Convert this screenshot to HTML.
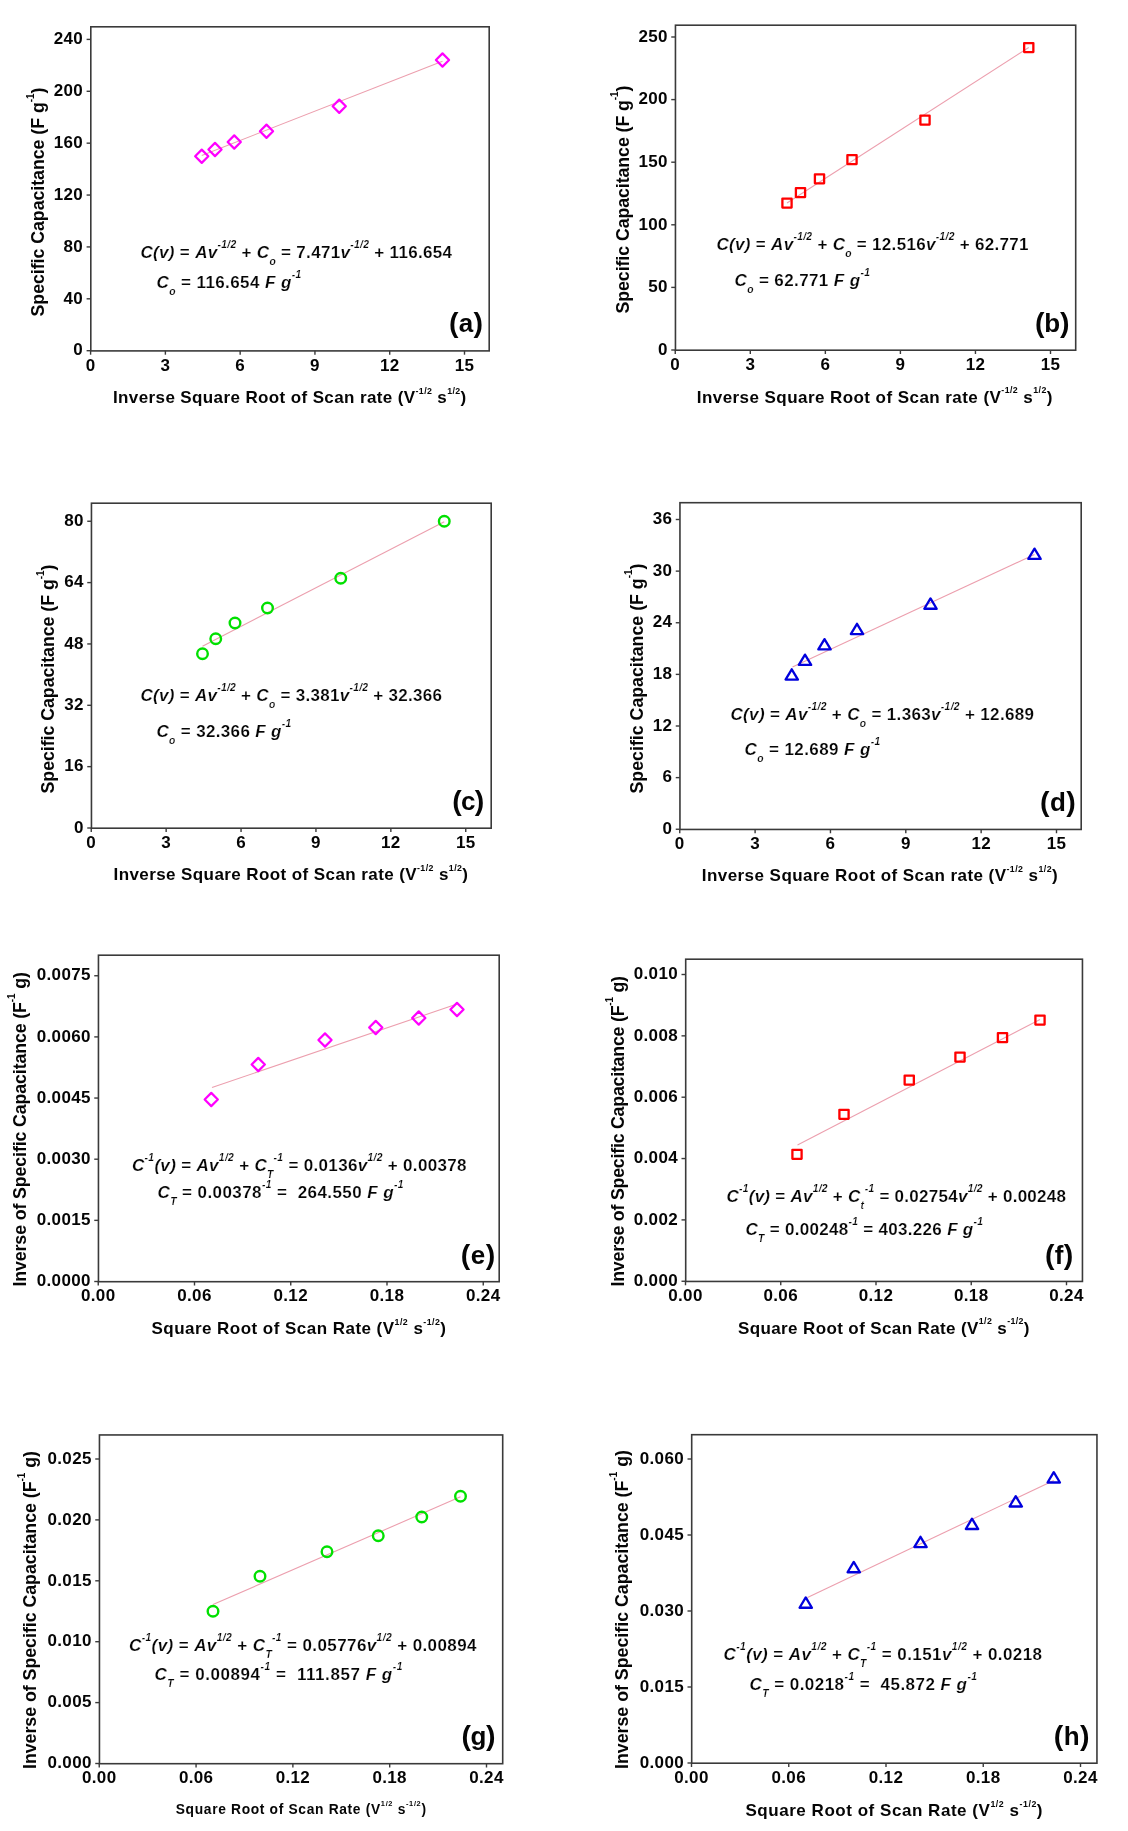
<!DOCTYPE html>
<html><head><meta charset="utf-8"><title>Figure</title>
<style>html,body{margin:0;padding:0;background:#fff;}svg{display:block;will-change:transform;filter:blur(0.35px);} text[id*="_eq"]{stroke:#fff;stroke-width:0.18px;}</style></head>
<body><svg width="1128" height="1831" viewBox="0 0 1128 1831">
<rect width="1128" height="1831" fill="#fff"/>
<line x1="201.75" y1="155.5" x2="442.5" y2="61.2" stroke="#ec9fae" stroke-width="1.1"/>
<rect x="90.8" y="26.8" width="398.4" height="324.09999999999997" fill="none" stroke="#3a3a3a" stroke-width="1.6"/>
<line x1="90.60" y1="350.7" x2="90.60" y2="354.7" stroke="#3a3a3a" stroke-width="1.4"/>
<text x="90.60" y="370.50" font-size="17.0" font-weight="bold" fill="#050505" text-anchor="middle" font-family='"Liberation Sans", sans-serif' style="white-space:pre" letter-spacing="0.3">0</text>
<line x1="165.38" y1="350.7" x2="165.38" y2="354.7" stroke="#3a3a3a" stroke-width="1.4"/>
<text x="165.38" y="370.50" font-size="17.0" font-weight="bold" fill="#050505" text-anchor="middle" font-family='"Liberation Sans", sans-serif' style="white-space:pre" letter-spacing="0.3">3</text>
<line x1="240.16" y1="350.7" x2="240.16" y2="354.7" stroke="#3a3a3a" stroke-width="1.4"/>
<text x="240.16" y="370.50" font-size="17.0" font-weight="bold" fill="#050505" text-anchor="middle" font-family='"Liberation Sans", sans-serif' style="white-space:pre" letter-spacing="0.3">6</text>
<line x1="314.94" y1="350.7" x2="314.94" y2="354.7" stroke="#3a3a3a" stroke-width="1.4"/>
<text x="314.94" y="370.50" font-size="17.0" font-weight="bold" fill="#050505" text-anchor="middle" font-family='"Liberation Sans", sans-serif' style="white-space:pre" letter-spacing="0.3">9</text>
<line x1="389.72" y1="350.7" x2="389.72" y2="354.7" stroke="#3a3a3a" stroke-width="1.4"/>
<text x="389.72" y="370.50" font-size="17.0" font-weight="bold" fill="#050505" text-anchor="middle" font-family='"Liberation Sans", sans-serif' style="white-space:pre" letter-spacing="0.3">12</text>
<line x1="464.50" y1="350.7" x2="464.50" y2="354.7" stroke="#3a3a3a" stroke-width="1.4"/>
<text x="464.50" y="370.50" font-size="17.0" font-weight="bold" fill="#050505" text-anchor="middle" font-family='"Liberation Sans", sans-serif' style="white-space:pre" letter-spacing="0.3">15</text>
<line x1="86.6" y1="350.70" x2="90.6" y2="350.70" stroke="#3a3a3a" stroke-width="1.4"/>
<text x="83.00" y="355.40" font-size="17.0" font-weight="bold" fill="#050505" text-anchor="end" font-family='"Liberation Sans", sans-serif' style="white-space:pre" letter-spacing="0.3">0</text>
<line x1="86.6" y1="298.82" x2="90.6" y2="298.82" stroke="#3a3a3a" stroke-width="1.4"/>
<text x="83.00" y="303.52" font-size="17.0" font-weight="bold" fill="#050505" text-anchor="end" font-family='"Liberation Sans", sans-serif' style="white-space:pre" letter-spacing="0.3">40</text>
<line x1="86.6" y1="246.93" x2="90.6" y2="246.93" stroke="#3a3a3a" stroke-width="1.4"/>
<text x="83.00" y="251.63" font-size="17.0" font-weight="bold" fill="#050505" text-anchor="end" font-family='"Liberation Sans", sans-serif' style="white-space:pre" letter-spacing="0.3">80</text>
<line x1="86.6" y1="195.05" x2="90.6" y2="195.05" stroke="#3a3a3a" stroke-width="1.4"/>
<text x="83.00" y="199.75" font-size="17.0" font-weight="bold" fill="#050505" text-anchor="end" font-family='"Liberation Sans", sans-serif' style="white-space:pre" letter-spacing="0.3">120</text>
<line x1="86.6" y1="143.17" x2="90.6" y2="143.17" stroke="#3a3a3a" stroke-width="1.4"/>
<text x="83.00" y="147.87" font-size="17.0" font-weight="bold" fill="#050505" text-anchor="end" font-family='"Liberation Sans", sans-serif' style="white-space:pre" letter-spacing="0.3">160</text>
<line x1="86.6" y1="91.28" x2="90.6" y2="91.28" stroke="#3a3a3a" stroke-width="1.4"/>
<text x="83.00" y="95.98" font-size="17.0" font-weight="bold" fill="#050505" text-anchor="end" font-family='"Liberation Sans", sans-serif' style="white-space:pre" letter-spacing="0.3">200</text>
<line x1="86.6" y1="39.40" x2="90.6" y2="39.40" stroke="#3a3a3a" stroke-width="1.4"/>
<text x="83.00" y="44.10" font-size="17.0" font-weight="bold" fill="#050505" text-anchor="end" font-family='"Liberation Sans", sans-serif' style="white-space:pre" letter-spacing="0.3">240</text>
<text id="a_xt" x="113.00" y="402.75" font-size="17.0" font-weight="bold" fill="#050505" text-anchor="start" font-family='"Liberation Sans", sans-serif' style="white-space:pre" textLength="353.25" lengthAdjust="spacing"><tspan >Inverse Square Root of Scan rate (V</tspan><tspan dy="-9.20" font-size="8.8">-1/2</tspan><tspan dy="9.20"> s</tspan><tspan dy="-9.20" font-size="8.8">1/2</tspan><tspan dy="9.20">)</tspan></text>
<text id="a_yt" x="44.00" y="316.50" font-size="17.8" font-weight="bold" fill="#050505" text-anchor="start" font-family='"Liberation Sans", sans-serif' style="white-space:pre" transform="rotate(-90 44.0 316.50000000000034)" textLength="229.00" lengthAdjust="spacing"><tspan >Specific Capacitance (F g</tspan><tspan dy="-10.30" font-size="10">-1</tspan><tspan dy="10.30">)</tspan></text>
<text id="a_eq0" x="140.50" y="258.00" font-size="17.0" font-weight="bold" fill="#050505" text-anchor="start" font-family='"Liberation Sans", sans-serif' style="white-space:pre" textLength="311.50" lengthAdjust="spacing"><tspan font-style="italic">C(v)</tspan><tspan > = </tspan><tspan font-style="italic">Av</tspan><tspan dy="-10.00" font-size="10.3" font-style="italic">-1/2</tspan><tspan dy="10.00"> + </tspan><tspan font-style="italic">C</tspan><tspan dy="7.00" font-size="10.3" font-style="italic">o</tspan><tspan dy="-7.00"> = 7.471</tspan><tspan font-style="italic">v</tspan><tspan dy="-10.00" font-size="10.3" font-style="italic">-1/2</tspan><tspan dy="10.00"> + 116.654</tspan></text>
<text id="a_eq1" x="156.50" y="287.70" font-size="17.0" font-weight="bold" fill="#050505" text-anchor="start" font-family='"Liberation Sans", sans-serif' style="white-space:pre" textLength="144.75" lengthAdjust="spacing"><tspan font-style="italic">C</tspan><tspan dy="7.00" font-size="10.3" font-style="italic">o</tspan><tspan dy="-7.00"> = 116.654 </tspan><tspan font-style="italic">F</tspan><tspan > </tspan><tspan font-style="italic">g</tspan><tspan dy="-10.00" font-size="10.3" font-style="italic">-1</tspan></text>
<text id="a_let" x="449.00" y="331.50" font-size="26" font-weight="bold" fill="#050505" text-anchor="start" font-family='"Liberation Sans", sans-serif' style="white-space:pre" textLength="34.00" lengthAdjust="spacing"><tspan font-size="28.5">(</tspan><tspan>a</tspan><tspan font-size="28.5">)</tspan></text>
<path d="M201.75 149.65L208.35 156.25L201.75 162.85L195.15 156.25Z" fill="none" stroke="#ff00ff" stroke-width="2.2" stroke-linejoin="round"/>
<path d="M215 142.9L221.6 149.5L215 156.1L208.4 149.5Z" fill="none" stroke="#ff00ff" stroke-width="2.2" stroke-linejoin="round"/>
<path d="M234.25 135.4L240.85 142L234.25 148.6L227.65 142Z" fill="none" stroke="#ff00ff" stroke-width="2.2" stroke-linejoin="round"/>
<path d="M266.5 124.65L273.1 131.25L266.5 137.85L259.9 131.25Z" fill="none" stroke="#ff00ff" stroke-width="2.2" stroke-linejoin="round"/>
<path d="M339.25 99.65L345.85 106.25L339.25 112.85L332.65 106.25Z" fill="none" stroke="#ff00ff" stroke-width="2.2" stroke-linejoin="round"/>
<path d="M442.5 53.4L449.1 60L442.5 66.6L435.9 60Z" fill="none" stroke="#ff00ff" stroke-width="2.2" stroke-linejoin="round"/>
<line x1="787" y1="203" x2="1028.75" y2="47.5" stroke="#ec9fae" stroke-width="1.1"/>
<rect x="675.45" y="25.2" width="400.25" height="325" fill="none" stroke="#3a3a3a" stroke-width="1.6"/>
<line x1="675.25" y1="350" x2="675.25" y2="354" stroke="#3a3a3a" stroke-width="1.4"/>
<text x="675.25" y="369.80" font-size="17.0" font-weight="bold" fill="#050505" text-anchor="middle" font-family='"Liberation Sans", sans-serif' style="white-space:pre" letter-spacing="0.3">0</text>
<line x1="750.30" y1="350" x2="750.30" y2="354" stroke="#3a3a3a" stroke-width="1.4"/>
<text x="750.30" y="369.80" font-size="17.0" font-weight="bold" fill="#050505" text-anchor="middle" font-family='"Liberation Sans", sans-serif' style="white-space:pre" letter-spacing="0.3">3</text>
<line x1="825.35" y1="350" x2="825.35" y2="354" stroke="#3a3a3a" stroke-width="1.4"/>
<text x="825.35" y="369.80" font-size="17.0" font-weight="bold" fill="#050505" text-anchor="middle" font-family='"Liberation Sans", sans-serif' style="white-space:pre" letter-spacing="0.3">6</text>
<line x1="900.40" y1="350" x2="900.40" y2="354" stroke="#3a3a3a" stroke-width="1.4"/>
<text x="900.40" y="369.80" font-size="17.0" font-weight="bold" fill="#050505" text-anchor="middle" font-family='"Liberation Sans", sans-serif' style="white-space:pre" letter-spacing="0.3">9</text>
<line x1="975.45" y1="350" x2="975.45" y2="354" stroke="#3a3a3a" stroke-width="1.4"/>
<text x="975.45" y="369.80" font-size="17.0" font-weight="bold" fill="#050505" text-anchor="middle" font-family='"Liberation Sans", sans-serif' style="white-space:pre" letter-spacing="0.3">12</text>
<line x1="1050.50" y1="350" x2="1050.50" y2="354" stroke="#3a3a3a" stroke-width="1.4"/>
<text x="1050.50" y="369.80" font-size="17.0" font-weight="bold" fill="#050505" text-anchor="middle" font-family='"Liberation Sans", sans-serif' style="white-space:pre" letter-spacing="0.3">15</text>
<line x1="671.25" y1="350.00" x2="675.25" y2="350.00" stroke="#3a3a3a" stroke-width="1.4"/>
<text x="667.65" y="354.70" font-size="17.0" font-weight="bold" fill="#050505" text-anchor="end" font-family='"Liberation Sans", sans-serif' style="white-space:pre" letter-spacing="0.3">0</text>
<line x1="671.25" y1="287.40" x2="675.25" y2="287.40" stroke="#3a3a3a" stroke-width="1.4"/>
<text x="667.65" y="292.10" font-size="17.0" font-weight="bold" fill="#050505" text-anchor="end" font-family='"Liberation Sans", sans-serif' style="white-space:pre" letter-spacing="0.3">50</text>
<line x1="671.25" y1="224.80" x2="675.25" y2="224.80" stroke="#3a3a3a" stroke-width="1.4"/>
<text x="667.65" y="229.50" font-size="17.0" font-weight="bold" fill="#050505" text-anchor="end" font-family='"Liberation Sans", sans-serif' style="white-space:pre" letter-spacing="0.3">100</text>
<line x1="671.25" y1="162.20" x2="675.25" y2="162.20" stroke="#3a3a3a" stroke-width="1.4"/>
<text x="667.65" y="166.90" font-size="17.0" font-weight="bold" fill="#050505" text-anchor="end" font-family='"Liberation Sans", sans-serif' style="white-space:pre" letter-spacing="0.3">150</text>
<line x1="671.25" y1="99.60" x2="675.25" y2="99.60" stroke="#3a3a3a" stroke-width="1.4"/>
<text x="667.65" y="104.30" font-size="17.0" font-weight="bold" fill="#050505" text-anchor="end" font-family='"Liberation Sans", sans-serif' style="white-space:pre" letter-spacing="0.3">200</text>
<line x1="671.25" y1="37.00" x2="675.25" y2="37.00" stroke="#3a3a3a" stroke-width="1.4"/>
<text x="667.65" y="41.70" font-size="17.0" font-weight="bold" fill="#050505" text-anchor="end" font-family='"Liberation Sans", sans-serif' style="white-space:pre" letter-spacing="0.3">250</text>
<text id="b_xt" x="696.75" y="402.50" font-size="17.0" font-weight="bold" fill="#050505" text-anchor="start" font-family='"Liberation Sans", sans-serif' style="white-space:pre" textLength="355.75" lengthAdjust="spacing"><tspan >Inverse Square Root of Scan rate (V</tspan><tspan dy="-9.20" font-size="8.8">-1/2</tspan><tspan dy="9.20"> s</tspan><tspan dy="-9.20" font-size="8.8">1/2</tspan><tspan dy="9.20">)</tspan></text>
<text id="b_yt" x="628.50" y="313.50" font-size="17.8" font-weight="bold" fill="#050505" text-anchor="start" font-family='"Liberation Sans", sans-serif' style="white-space:pre" transform="rotate(-90 628.5 313.5)" textLength="228.00" lengthAdjust="spacing"><tspan >Specific Capacitance (F g</tspan><tspan dy="-10.30" font-size="10">-1</tspan><tspan dy="10.30">)</tspan></text>
<text id="b_eq0" x="716.50" y="250.00" font-size="17.0" font-weight="bold" fill="#050505" text-anchor="start" font-family='"Liberation Sans", sans-serif' style="white-space:pre" textLength="312.00" lengthAdjust="spacing"><tspan font-style="italic">C(v)</tspan><tspan > = </tspan><tspan font-style="italic">Av</tspan><tspan dy="-10.00" font-size="10.3" font-style="italic">-1/2</tspan><tspan dy="10.00"> + </tspan><tspan font-style="italic">C</tspan><tspan dy="7.00" font-size="10.3" font-style="italic">o</tspan><tspan dy="-7.00"> = 12.516</tspan><tspan font-style="italic">v</tspan><tspan dy="-10.00" font-size="10.3" font-style="italic">-1/2</tspan><tspan dy="10.00"> + 62.771</tspan></text>
<text id="b_eq1" x="734.50" y="286.40" font-size="17.0" font-weight="bold" fill="#050505" text-anchor="start" font-family='"Liberation Sans", sans-serif' style="white-space:pre" textLength="135.50" lengthAdjust="spacing"><tspan font-style="italic">C</tspan><tspan dy="7.00" font-size="10.3" font-style="italic">o</tspan><tspan dy="-7.00"> = 62.771 </tspan><tspan font-style="italic">F</tspan><tspan > </tspan><tspan font-style="italic">g</tspan><tspan dy="-10.00" font-size="10.3" font-style="italic">-1</tspan></text>
<text id="b_let" x="1035.00" y="331.50" font-size="26" font-weight="bold" fill="#050505" text-anchor="start" font-family='"Liberation Sans", sans-serif' style="white-space:pre" textLength="34.50" lengthAdjust="spacing"><tspan font-size="28.5">(</tspan><tspan>b</tspan><tspan font-size="28.5">)</tspan></text>
<rect x="782.4" y="198.6" width="9.2" height="9.0" fill="none" stroke="#ff0000" stroke-width="2.3" stroke-linejoin="round"/>
<rect x="795.9" y="188.1" width="9.2" height="9.0" fill="none" stroke="#ff0000" stroke-width="2.3" stroke-linejoin="round"/>
<rect x="814.9" y="174.35" width="9.2" height="9.0" fill="none" stroke="#ff0000" stroke-width="2.3" stroke-linejoin="round"/>
<rect x="847.4" y="155.1" width="9.2" height="9.0" fill="none" stroke="#ff0000" stroke-width="2.3" stroke-linejoin="round"/>
<rect x="920.4" y="115.60000000000001" width="9.2" height="9.0" fill="none" stroke="#ff0000" stroke-width="2.3" stroke-linejoin="round"/>
<rect x="1024.15" y="43.1" width="9.2" height="9.0" fill="none" stroke="#ff0000" stroke-width="2.3" stroke-linejoin="round"/>
<line x1="202.5" y1="646.25" x2="444.25" y2="521.8" stroke="#ec9fae" stroke-width="1.1"/>
<rect x="91.45" y="503.2" width="399.75" height="325" fill="none" stroke="#3a3a3a" stroke-width="1.6"/>
<line x1="91.25" y1="828" x2="91.25" y2="832" stroke="#3a3a3a" stroke-width="1.4"/>
<text x="91.25" y="847.80" font-size="17.0" font-weight="bold" fill="#050505" text-anchor="middle" font-family='"Liberation Sans", sans-serif' style="white-space:pre" letter-spacing="0.3">0</text>
<line x1="166.15" y1="828" x2="166.15" y2="832" stroke="#3a3a3a" stroke-width="1.4"/>
<text x="166.15" y="847.80" font-size="17.0" font-weight="bold" fill="#050505" text-anchor="middle" font-family='"Liberation Sans", sans-serif' style="white-space:pre" letter-spacing="0.3">3</text>
<line x1="241.05" y1="828" x2="241.05" y2="832" stroke="#3a3a3a" stroke-width="1.4"/>
<text x="241.05" y="847.80" font-size="17.0" font-weight="bold" fill="#050505" text-anchor="middle" font-family='"Liberation Sans", sans-serif' style="white-space:pre" letter-spacing="0.3">6</text>
<line x1="315.95" y1="828" x2="315.95" y2="832" stroke="#3a3a3a" stroke-width="1.4"/>
<text x="315.95" y="847.80" font-size="17.0" font-weight="bold" fill="#050505" text-anchor="middle" font-family='"Liberation Sans", sans-serif' style="white-space:pre" letter-spacing="0.3">9</text>
<line x1="390.85" y1="828" x2="390.85" y2="832" stroke="#3a3a3a" stroke-width="1.4"/>
<text x="390.85" y="847.80" font-size="17.0" font-weight="bold" fill="#050505" text-anchor="middle" font-family='"Liberation Sans", sans-serif' style="white-space:pre" letter-spacing="0.3">12</text>
<line x1="465.75" y1="828" x2="465.75" y2="832" stroke="#3a3a3a" stroke-width="1.4"/>
<text x="465.75" y="847.80" font-size="17.0" font-weight="bold" fill="#050505" text-anchor="middle" font-family='"Liberation Sans", sans-serif' style="white-space:pre" letter-spacing="0.3">15</text>
<line x1="87.25" y1="828.00" x2="91.25" y2="828.00" stroke="#3a3a3a" stroke-width="1.4"/>
<text x="83.65" y="832.70" font-size="17.0" font-weight="bold" fill="#050505" text-anchor="end" font-family='"Liberation Sans", sans-serif' style="white-space:pre" letter-spacing="0.3">0</text>
<line x1="87.25" y1="766.65" x2="91.25" y2="766.65" stroke="#3a3a3a" stroke-width="1.4"/>
<text x="83.65" y="771.35" font-size="17.0" font-weight="bold" fill="#050505" text-anchor="end" font-family='"Liberation Sans", sans-serif' style="white-space:pre" letter-spacing="0.3">16</text>
<line x1="87.25" y1="705.30" x2="91.25" y2="705.30" stroke="#3a3a3a" stroke-width="1.4"/>
<text x="83.65" y="710.00" font-size="17.0" font-weight="bold" fill="#050505" text-anchor="end" font-family='"Liberation Sans", sans-serif' style="white-space:pre" letter-spacing="0.3">32</text>
<line x1="87.25" y1="643.95" x2="91.25" y2="643.95" stroke="#3a3a3a" stroke-width="1.4"/>
<text x="83.65" y="648.65" font-size="17.0" font-weight="bold" fill="#050505" text-anchor="end" font-family='"Liberation Sans", sans-serif' style="white-space:pre" letter-spacing="0.3">48</text>
<line x1="87.25" y1="582.60" x2="91.25" y2="582.60" stroke="#3a3a3a" stroke-width="1.4"/>
<text x="83.65" y="587.30" font-size="17.0" font-weight="bold" fill="#050505" text-anchor="end" font-family='"Liberation Sans", sans-serif' style="white-space:pre" letter-spacing="0.3">64</text>
<line x1="87.25" y1="521.25" x2="91.25" y2="521.25" stroke="#3a3a3a" stroke-width="1.4"/>
<text x="83.65" y="525.95" font-size="17.0" font-weight="bold" fill="#050505" text-anchor="end" font-family='"Liberation Sans", sans-serif' style="white-space:pre" letter-spacing="0.3">80</text>
<text id="c_xt" x="113.50" y="880.00" font-size="17.0" font-weight="bold" fill="#050505" text-anchor="start" font-family='"Liberation Sans", sans-serif' style="white-space:pre" textLength="354.50" lengthAdjust="spacing"><tspan >Inverse Square Root of Scan rate (V</tspan><tspan dy="-9.20" font-size="8.8">-1/2</tspan><tspan dy="9.20"> s</tspan><tspan dy="-9.20" font-size="8.8">1/2</tspan><tspan dy="9.20">)</tspan></text>
<text id="c_yt" x="54.00" y="793.50" font-size="17.8" font-weight="bold" fill="#050505" text-anchor="start" font-family='"Liberation Sans", sans-serif' style="white-space:pre" transform="rotate(-90 54.0 793.5)" textLength="229.00" lengthAdjust="spacing"><tspan >Specific Capacitance (F g</tspan><tspan dy="-10.30" font-size="10">-1</tspan><tspan dy="10.30">)</tspan></text>
<text id="c_eq0" x="140.50" y="701.10" font-size="17.0" font-weight="bold" fill="#050505" text-anchor="start" font-family='"Liberation Sans", sans-serif' style="white-space:pre" textLength="301.50" lengthAdjust="spacing"><tspan font-style="italic">C(v)</tspan><tspan > = </tspan><tspan font-style="italic">Av</tspan><tspan dy="-10.00" font-size="10.3" font-style="italic">-1/2</tspan><tspan dy="10.00"> + </tspan><tspan font-style="italic">C</tspan><tspan dy="7.00" font-size="10.3" font-style="italic">o</tspan><tspan dy="-7.00"> = 3.381</tspan><tspan font-style="italic">v</tspan><tspan dy="-10.00" font-size="10.3" font-style="italic">-1/2</tspan><tspan dy="10.00"> + 32.366</tspan></text>
<text id="c_eq1" x="156.50" y="737.00" font-size="17.0" font-weight="bold" fill="#050505" text-anchor="start" font-family='"Liberation Sans", sans-serif' style="white-space:pre" textLength="134.75" lengthAdjust="spacing"><tspan font-style="italic">C</tspan><tspan dy="7.00" font-size="10.3" font-style="italic">o</tspan><tspan dy="-7.00"> = 32.366 </tspan><tspan font-style="italic">F</tspan><tspan > </tspan><tspan font-style="italic">g</tspan><tspan dy="-10.00" font-size="10.3" font-style="italic">-1</tspan></text>
<text id="c_let" x="452.25" y="810.25" font-size="26" font-weight="bold" fill="#050505" text-anchor="start" font-family='"Liberation Sans", sans-serif' style="white-space:pre" textLength="32.00" lengthAdjust="spacing"><tspan font-size="28.5">(</tspan><tspan>c</tspan><tspan font-size="28.5">)</tspan></text>
<circle cx="202.5" cy="653.75" r="5.3" fill="none" stroke="#00e000" stroke-width="2.4"/>
<circle cx="215.75" cy="638.75" r="5.3" fill="none" stroke="#00e000" stroke-width="2.4"/>
<circle cx="235" cy="623" r="5.3" fill="none" stroke="#00e000" stroke-width="2.4"/>
<circle cx="267.5" cy="608" r="5.3" fill="none" stroke="#00e000" stroke-width="2.4"/>
<circle cx="340.75" cy="578.25" r="5.3" fill="none" stroke="#00e000" stroke-width="2.4"/>
<circle cx="444.25" cy="521.25" r="5.3" fill="none" stroke="#00e000" stroke-width="2.4"/>
<line x1="792.5" y1="667" x2="1034.5" y2="554.5" stroke="#ec9fae" stroke-width="1.1"/>
<rect x="679.95" y="502.7" width="401.25" height="326.75" fill="none" stroke="#3a3a3a" stroke-width="1.6"/>
<line x1="679.75" y1="829.25" x2="679.75" y2="833.25" stroke="#3a3a3a" stroke-width="1.4"/>
<text x="679.75" y="849.05" font-size="17.0" font-weight="bold" fill="#050505" text-anchor="middle" font-family='"Liberation Sans", sans-serif' style="white-space:pre" letter-spacing="0.3">0</text>
<line x1="755.10" y1="829.25" x2="755.10" y2="833.25" stroke="#3a3a3a" stroke-width="1.4"/>
<text x="755.10" y="849.05" font-size="17.0" font-weight="bold" fill="#050505" text-anchor="middle" font-family='"Liberation Sans", sans-serif' style="white-space:pre" letter-spacing="0.3">3</text>
<line x1="830.45" y1="829.25" x2="830.45" y2="833.25" stroke="#3a3a3a" stroke-width="1.4"/>
<text x="830.45" y="849.05" font-size="17.0" font-weight="bold" fill="#050505" text-anchor="middle" font-family='"Liberation Sans", sans-serif' style="white-space:pre" letter-spacing="0.3">6</text>
<line x1="905.80" y1="829.25" x2="905.80" y2="833.25" stroke="#3a3a3a" stroke-width="1.4"/>
<text x="905.80" y="849.05" font-size="17.0" font-weight="bold" fill="#050505" text-anchor="middle" font-family='"Liberation Sans", sans-serif' style="white-space:pre" letter-spacing="0.3">9</text>
<line x1="981.15" y1="829.25" x2="981.15" y2="833.25" stroke="#3a3a3a" stroke-width="1.4"/>
<text x="981.15" y="849.05" font-size="17.0" font-weight="bold" fill="#050505" text-anchor="middle" font-family='"Liberation Sans", sans-serif' style="white-space:pre" letter-spacing="0.3">12</text>
<line x1="1056.50" y1="829.25" x2="1056.50" y2="833.25" stroke="#3a3a3a" stroke-width="1.4"/>
<text x="1056.50" y="849.05" font-size="17.0" font-weight="bold" fill="#050505" text-anchor="middle" font-family='"Liberation Sans", sans-serif' style="white-space:pre" letter-spacing="0.3">15</text>
<line x1="675.75" y1="829.25" x2="679.75" y2="829.25" stroke="#3a3a3a" stroke-width="1.4"/>
<text x="672.15" y="833.95" font-size="17.0" font-weight="bold" fill="#050505" text-anchor="end" font-family='"Liberation Sans", sans-serif' style="white-space:pre" letter-spacing="0.3">0</text>
<line x1="675.75" y1="777.62" x2="679.75" y2="777.62" stroke="#3a3a3a" stroke-width="1.4"/>
<text x="672.15" y="782.33" font-size="17.0" font-weight="bold" fill="#050505" text-anchor="end" font-family='"Liberation Sans", sans-serif' style="white-space:pre" letter-spacing="0.3">6</text>
<line x1="675.75" y1="726.00" x2="679.75" y2="726.00" stroke="#3a3a3a" stroke-width="1.4"/>
<text x="672.15" y="730.70" font-size="17.0" font-weight="bold" fill="#050505" text-anchor="end" font-family='"Liberation Sans", sans-serif' style="white-space:pre" letter-spacing="0.3">12</text>
<line x1="675.75" y1="674.38" x2="679.75" y2="674.38" stroke="#3a3a3a" stroke-width="1.4"/>
<text x="672.15" y="679.08" font-size="17.0" font-weight="bold" fill="#050505" text-anchor="end" font-family='"Liberation Sans", sans-serif' style="white-space:pre" letter-spacing="0.3">18</text>
<line x1="675.75" y1="622.75" x2="679.75" y2="622.75" stroke="#3a3a3a" stroke-width="1.4"/>
<text x="672.15" y="627.45" font-size="17.0" font-weight="bold" fill="#050505" text-anchor="end" font-family='"Liberation Sans", sans-serif' style="white-space:pre" letter-spacing="0.3">24</text>
<line x1="675.75" y1="571.12" x2="679.75" y2="571.12" stroke="#3a3a3a" stroke-width="1.4"/>
<text x="672.15" y="575.83" font-size="17.0" font-weight="bold" fill="#050505" text-anchor="end" font-family='"Liberation Sans", sans-serif' style="white-space:pre" letter-spacing="0.3">30</text>
<line x1="675.75" y1="519.50" x2="679.75" y2="519.50" stroke="#3a3a3a" stroke-width="1.4"/>
<text x="672.15" y="524.20" font-size="17.0" font-weight="bold" fill="#050505" text-anchor="end" font-family='"Liberation Sans", sans-serif' style="white-space:pre" letter-spacing="0.3">36</text>
<text id="d_xt" x="701.75" y="881.25" font-size="17.0" font-weight="bold" fill="#050505" text-anchor="start" font-family='"Liberation Sans", sans-serif' style="white-space:pre" textLength="356.00" lengthAdjust="spacing"><tspan >Inverse Square Root of Scan rate (V</tspan><tspan dy="-9.20" font-size="8.8">-1/2</tspan><tspan dy="9.20"> s</tspan><tspan dy="-9.20" font-size="8.8">1/2</tspan><tspan dy="9.20">)</tspan></text>
<text id="d_yt" x="642.50" y="793.50" font-size="17.8" font-weight="bold" fill="#050505" text-anchor="start" font-family='"Liberation Sans", sans-serif' style="white-space:pre" transform="rotate(-90 642.5 793.5)" textLength="230.00" lengthAdjust="spacing"><tspan >Specific Capacitance (F g</tspan><tspan dy="-10.30" font-size="10">-1</tspan><tspan dy="10.30">)</tspan></text>
<text id="d_eq0" x="730.50" y="720.10" font-size="17.0" font-weight="bold" fill="#050505" text-anchor="start" font-family='"Liberation Sans", sans-serif' style="white-space:pre" textLength="303.50" lengthAdjust="spacing"><tspan font-style="italic">C(v)</tspan><tspan > = </tspan><tspan font-style="italic">Av</tspan><tspan dy="-10.00" font-size="10.3" font-style="italic">-1/2</tspan><tspan dy="10.00"> + </tspan><tspan font-style="italic">C</tspan><tspan dy="7.00" font-size="10.3" font-style="italic">o</tspan><tspan dy="-7.00"> = 1.363</tspan><tspan font-style="italic">v</tspan><tspan dy="-10.00" font-size="10.3" font-style="italic">-1/2</tspan><tspan dy="10.00"> + 12.689</tspan></text>
<text id="d_eq1" x="744.50" y="755.00" font-size="17.0" font-weight="bold" fill="#050505" text-anchor="start" font-family='"Liberation Sans", sans-serif' style="white-space:pre" textLength="135.75" lengthAdjust="spacing"><tspan font-style="italic">C</tspan><tspan dy="7.00" font-size="10.3" font-style="italic">o</tspan><tspan dy="-7.00"> = 12.689 </tspan><tspan font-style="italic">F</tspan><tspan > </tspan><tspan font-style="italic">g</tspan><tspan dy="-10.00" font-size="10.3" font-style="italic">-1</tspan></text>
<text id="d_let" x="1040.00" y="811.00" font-size="26" font-weight="bold" fill="#050505" text-anchor="start" font-family='"Liberation Sans", sans-serif' style="white-space:pre" textLength="35.75" lengthAdjust="spacing"><tspan font-size="28.5">(</tspan><tspan>d</tspan><tspan font-size="28.5">)</tspan></text>
<path d="M791.75 669.3000000000001L797.95 679.6L785.55 679.6Z" fill="none" stroke="#0000dd" stroke-width="2.3" stroke-linejoin="round"/>
<path d="M805 654.6L811.2 664.9L798.8 664.9Z" fill="none" stroke="#0000dd" stroke-width="2.3" stroke-linejoin="round"/>
<path d="M824.5 639.1L830.7 649.4L818.3 649.4Z" fill="none" stroke="#0000dd" stroke-width="2.3" stroke-linejoin="round"/>
<path d="M857 623.8000000000001L863.2 634.1L850.8 634.1Z" fill="none" stroke="#0000dd" stroke-width="2.3" stroke-linejoin="round"/>
<path d="M930.5 598.45L936.7 608.75L924.3 608.75Z" fill="none" stroke="#0000dd" stroke-width="2.3" stroke-linejoin="round"/>
<path d="M1034.5 548.6L1040.7 558.9L1028.3 558.9Z" fill="none" stroke="#0000dd" stroke-width="2.3" stroke-linejoin="round"/>
<line x1="212" y1="1087.5" x2="457" y2="1004" stroke="#ec9fae" stroke-width="1.1"/>
<rect x="98.45" y="955.2" width="400.75" height="326.5" fill="none" stroke="#3a3a3a" stroke-width="1.6"/>
<line x1="98.25" y1="1281.5" x2="98.25" y2="1285.5" stroke="#3a3a3a" stroke-width="1.4"/>
<text x="98.25" y="1301.30" font-size="17.0" font-weight="bold" fill="#050505" text-anchor="middle" font-family='"Liberation Sans", sans-serif' style="white-space:pre" letter-spacing="0.3">0.00</text>
<line x1="194.50" y1="1281.5" x2="194.50" y2="1285.5" stroke="#3a3a3a" stroke-width="1.4"/>
<text x="194.50" y="1301.30" font-size="17.0" font-weight="bold" fill="#050505" text-anchor="middle" font-family='"Liberation Sans", sans-serif' style="white-space:pre" letter-spacing="0.3">0.06</text>
<line x1="290.75" y1="1281.5" x2="290.75" y2="1285.5" stroke="#3a3a3a" stroke-width="1.4"/>
<text x="290.75" y="1301.30" font-size="17.0" font-weight="bold" fill="#050505" text-anchor="middle" font-family='"Liberation Sans", sans-serif' style="white-space:pre" letter-spacing="0.3">0.12</text>
<line x1="387.00" y1="1281.5" x2="387.00" y2="1285.5" stroke="#3a3a3a" stroke-width="1.4"/>
<text x="387.00" y="1301.30" font-size="17.0" font-weight="bold" fill="#050505" text-anchor="middle" font-family='"Liberation Sans", sans-serif' style="white-space:pre" letter-spacing="0.3">0.18</text>
<line x1="483.25" y1="1281.5" x2="483.25" y2="1285.5" stroke="#3a3a3a" stroke-width="1.4"/>
<text x="483.25" y="1301.30" font-size="17.0" font-weight="bold" fill="#050505" text-anchor="middle" font-family='"Liberation Sans", sans-serif' style="white-space:pre" letter-spacing="0.3">0.24</text>
<line x1="94.25" y1="1281.50" x2="98.25" y2="1281.50" stroke="#3a3a3a" stroke-width="1.4"/>
<text x="90.65" y="1286.20" font-size="17.0" font-weight="bold" fill="#050505" text-anchor="end" font-family='"Liberation Sans", sans-serif' style="white-space:pre" letter-spacing="0.3">0.0000</text>
<line x1="94.25" y1="1220.35" x2="98.25" y2="1220.35" stroke="#3a3a3a" stroke-width="1.4"/>
<text x="90.65" y="1225.05" font-size="17.0" font-weight="bold" fill="#050505" text-anchor="end" font-family='"Liberation Sans", sans-serif' style="white-space:pre" letter-spacing="0.3">0.0015</text>
<line x1="94.25" y1="1159.20" x2="98.25" y2="1159.20" stroke="#3a3a3a" stroke-width="1.4"/>
<text x="90.65" y="1163.90" font-size="17.0" font-weight="bold" fill="#050505" text-anchor="end" font-family='"Liberation Sans", sans-serif' style="white-space:pre" letter-spacing="0.3">0.0030</text>
<line x1="94.25" y1="1098.05" x2="98.25" y2="1098.05" stroke="#3a3a3a" stroke-width="1.4"/>
<text x="90.65" y="1102.75" font-size="17.0" font-weight="bold" fill="#050505" text-anchor="end" font-family='"Liberation Sans", sans-serif' style="white-space:pre" letter-spacing="0.3">0.0045</text>
<line x1="94.25" y1="1036.90" x2="98.25" y2="1036.90" stroke="#3a3a3a" stroke-width="1.4"/>
<text x="90.65" y="1041.60" font-size="17.0" font-weight="bold" fill="#050505" text-anchor="end" font-family='"Liberation Sans", sans-serif' style="white-space:pre" letter-spacing="0.3">0.0060</text>
<line x1="94.25" y1="975.75" x2="98.25" y2="975.75" stroke="#3a3a3a" stroke-width="1.4"/>
<text x="90.65" y="980.45" font-size="17.0" font-weight="bold" fill="#050505" text-anchor="end" font-family='"Liberation Sans", sans-serif' style="white-space:pre" letter-spacing="0.3">0.0075</text>
<text id="e_xt" x="151.50" y="1333.75" font-size="17.0" font-weight="bold" fill="#050505" text-anchor="start" font-family='"Liberation Sans", sans-serif' style="white-space:pre" textLength="294.50" lengthAdjust="spacing"><tspan >Square Root of Scan Rate (V</tspan><tspan dy="-9.20" font-size="8.8">1/2</tspan><tspan dy="9.20"> s</tspan><tspan dy="-9.20" font-size="8.8">-1/2</tspan><tspan dy="9.20">)</tspan></text>
<text id="e_yt" x="25.50" y="1286.50" font-size="17.8" font-weight="bold" fill="#050505" text-anchor="start" font-family='"Liberation Sans", sans-serif' style="white-space:pre" transform="rotate(-90 25.5 1286.5)" textLength="314.50" lengthAdjust="spacing"><tspan >Inverse of Specific Capacitance (F</tspan><tspan dy="-10.30" font-size="10">-1</tspan><tspan dy="10.30"> g)</tspan></text>
<text id="e_eq0" x="132.00" y="1170.50" font-size="17.0" font-weight="bold" fill="#050505" text-anchor="start" font-family='"Liberation Sans", sans-serif' style="white-space:pre" textLength="334.50" lengthAdjust="spacing"><tspan font-style="italic">C</tspan><tspan dy="-10.00" font-size="10.3" font-style="italic">-1</tspan><tspan dy="10.00" font-style="italic">(v)</tspan><tspan > = </tspan><tspan font-style="italic">Av</tspan><tspan dy="-10.00" font-size="10.3" font-style="italic">1/2</tspan><tspan dy="10.00"> + </tspan><tspan font-style="italic">C</tspan><tspan dy="7.00" font-size="10.3" font-style="italic">T</tspan><tspan dy="-17.00" dx="0.50" font-size="10.3" font-style="italic">-1</tspan><tspan dy="10.00"> = 0.0136</tspan><tspan font-style="italic">v</tspan><tspan dy="-10.00" font-size="10.3" font-style="italic">1/2</tspan><tspan dy="10.00"> + 0.00378</tspan></text>
<text id="e_eq1" x="157.50" y="1197.70" font-size="17.0" font-weight="bold" fill="#050505" text-anchor="start" font-family='"Liberation Sans", sans-serif' style="white-space:pre" textLength="246.00" lengthAdjust="spacing"><tspan font-style="italic">C</tspan><tspan dy="7.00" font-size="10.3" font-style="italic">T</tspan><tspan dy="-7.00"> = 0.00378</tspan><tspan dy="-10.00" font-size="10.3" font-style="italic">-1</tspan><tspan dy="10.00"> =  264.550 </tspan><tspan font-style="italic">F</tspan><tspan > </tspan><tspan font-style="italic">g</tspan><tspan dy="-10.00" font-size="10.3" font-style="italic">-1</tspan></text>
<text id="e_let" x="460.80" y="1264.30" font-size="26" font-weight="bold" fill="#050505" text-anchor="start" font-family='"Liberation Sans", sans-serif' style="white-space:pre" textLength="34.50" lengthAdjust="spacing"><tspan font-size="28.5">(</tspan><tspan>e</tspan><tspan font-size="28.5">)</tspan></text>
<path d="M211.25 1092.9L217.85 1099.5L211.25 1106.1L204.65 1099.5Z" fill="none" stroke="#ff00ff" stroke-width="2.2" stroke-linejoin="round"/>
<path d="M258.25 1057.9L264.85 1064.5L258.25 1071.1L251.65 1064.5Z" fill="none" stroke="#ff00ff" stroke-width="2.2" stroke-linejoin="round"/>
<path d="M325 1033.4L331.6 1040L325 1046.6L318.4 1040Z" fill="none" stroke="#ff00ff" stroke-width="2.2" stroke-linejoin="round"/>
<path d="M375.75 1020.9L382.35 1027.5L375.75 1034.1L369.15 1027.5Z" fill="none" stroke="#ff00ff" stroke-width="2.2" stroke-linejoin="round"/>
<path d="M418.75 1011.4L425.35 1018L418.75 1024.6L412.15 1018Z" fill="none" stroke="#ff00ff" stroke-width="2.2" stroke-linejoin="round"/>
<path d="M457 1002.9L463.6 1009.5L457 1016.1L450.4 1009.5Z" fill="none" stroke="#ff00ff" stroke-width="2.2" stroke-linejoin="round"/>
<line x1="797.5" y1="1145" x2="1040" y2="1019.5" stroke="#ec9fae" stroke-width="1.1"/>
<rect x="685.7" y="959.2" width="396.75" height="322.25" fill="none" stroke="#3a3a3a" stroke-width="1.6"/>
<line x1="685.50" y1="1281.25" x2="685.50" y2="1285.25" stroke="#3a3a3a" stroke-width="1.4"/>
<text x="685.50" y="1301.05" font-size="17.0" font-weight="bold" fill="#050505" text-anchor="middle" font-family='"Liberation Sans", sans-serif' style="white-space:pre" letter-spacing="0.3">0.00</text>
<line x1="780.75" y1="1281.25" x2="780.75" y2="1285.25" stroke="#3a3a3a" stroke-width="1.4"/>
<text x="780.75" y="1301.05" font-size="17.0" font-weight="bold" fill="#050505" text-anchor="middle" font-family='"Liberation Sans", sans-serif' style="white-space:pre" letter-spacing="0.3">0.06</text>
<line x1="876.00" y1="1281.25" x2="876.00" y2="1285.25" stroke="#3a3a3a" stroke-width="1.4"/>
<text x="876.00" y="1301.05" font-size="17.0" font-weight="bold" fill="#050505" text-anchor="middle" font-family='"Liberation Sans", sans-serif' style="white-space:pre" letter-spacing="0.3">0.12</text>
<line x1="971.25" y1="1281.25" x2="971.25" y2="1285.25" stroke="#3a3a3a" stroke-width="1.4"/>
<text x="971.25" y="1301.05" font-size="17.0" font-weight="bold" fill="#050505" text-anchor="middle" font-family='"Liberation Sans", sans-serif' style="white-space:pre" letter-spacing="0.3">0.18</text>
<line x1="1066.50" y1="1281.25" x2="1066.50" y2="1285.25" stroke="#3a3a3a" stroke-width="1.4"/>
<text x="1066.50" y="1301.05" font-size="17.0" font-weight="bold" fill="#050505" text-anchor="middle" font-family='"Liberation Sans", sans-serif' style="white-space:pre" letter-spacing="0.3">0.24</text>
<line x1="681.5" y1="1281.25" x2="685.5" y2="1281.25" stroke="#3a3a3a" stroke-width="1.4"/>
<text x="677.90" y="1285.95" font-size="17.0" font-weight="bold" fill="#050505" text-anchor="end" font-family='"Liberation Sans", sans-serif' style="white-space:pre" letter-spacing="0.3">0.000</text>
<line x1="681.5" y1="1219.90" x2="685.5" y2="1219.90" stroke="#3a3a3a" stroke-width="1.4"/>
<text x="677.90" y="1224.60" font-size="17.0" font-weight="bold" fill="#050505" text-anchor="end" font-family='"Liberation Sans", sans-serif' style="white-space:pre" letter-spacing="0.3">0.002</text>
<line x1="681.5" y1="1158.55" x2="685.5" y2="1158.55" stroke="#3a3a3a" stroke-width="1.4"/>
<text x="677.90" y="1163.25" font-size="17.0" font-weight="bold" fill="#050505" text-anchor="end" font-family='"Liberation Sans", sans-serif' style="white-space:pre" letter-spacing="0.3">0.004</text>
<line x1="681.5" y1="1097.20" x2="685.5" y2="1097.20" stroke="#3a3a3a" stroke-width="1.4"/>
<text x="677.90" y="1101.90" font-size="17.0" font-weight="bold" fill="#050505" text-anchor="end" font-family='"Liberation Sans", sans-serif' style="white-space:pre" letter-spacing="0.3">0.006</text>
<line x1="681.5" y1="1035.85" x2="685.5" y2="1035.85" stroke="#3a3a3a" stroke-width="1.4"/>
<text x="677.90" y="1040.55" font-size="17.0" font-weight="bold" fill="#050505" text-anchor="end" font-family='"Liberation Sans", sans-serif' style="white-space:pre" letter-spacing="0.3">0.008</text>
<line x1="681.5" y1="974.50" x2="685.5" y2="974.50" stroke="#3a3a3a" stroke-width="1.4"/>
<text x="677.90" y="979.20" font-size="17.0" font-weight="bold" fill="#050505" text-anchor="end" font-family='"Liberation Sans", sans-serif' style="white-space:pre" letter-spacing="0.3">0.010</text>
<text id="f_xt" x="738.00" y="1333.50" font-size="17.0" font-weight="bold" fill="#050505" text-anchor="start" font-family='"Liberation Sans", sans-serif' style="white-space:pre" textLength="291.50" lengthAdjust="spacing"><tspan >Square Root of Scan Rate (V</tspan><tspan dy="-9.20" font-size="8.8">1/2</tspan><tspan dy="9.20"> s</tspan><tspan dy="-9.20" font-size="8.8">-1/2</tspan><tspan dy="9.20">)</tspan></text>
<text id="f_yt" x="623.50" y="1286.50" font-size="17.8" font-weight="bold" fill="#050505" text-anchor="start" font-family='"Liberation Sans", sans-serif' style="white-space:pre" transform="rotate(-90 623.5 1286.5)" textLength="310.50" lengthAdjust="spacing"><tspan >Inverse of Specific Capacitance (F</tspan><tspan dy="-10.30" font-size="10">-1</tspan><tspan dy="10.30"> g)</tspan></text>
<text id="f_eq0" x="726.50" y="1202.10" font-size="17.0" font-weight="bold" fill="#050505" text-anchor="start" font-family='"Liberation Sans", sans-serif' style="white-space:pre" textLength="339.50" lengthAdjust="spacing"><tspan font-style="italic">C</tspan><tspan dy="-10.00" font-size="10.3" font-style="italic">-1</tspan><tspan dy="10.00" font-style="italic">(v)</tspan><tspan > = </tspan><tspan font-style="italic">Av</tspan><tspan dy="-10.00" font-size="10.3" font-style="italic">1/2</tspan><tspan dy="10.00"> + </tspan><tspan font-style="italic">C</tspan><tspan dy="7.00" font-size="10.3" font-style="italic">t</tspan><tspan dy="-17.00" dx="0.50" font-size="10.3" font-style="italic">-1</tspan><tspan dy="10.00"> = 0.02754</tspan><tspan font-style="italic">v</tspan><tspan dy="-10.00" font-size="10.3" font-style="italic">1/2</tspan><tspan dy="10.00"> + 0.00248</tspan></text>
<text id="f_eq1" x="745.50" y="1235.00" font-size="17.0" font-weight="bold" fill="#050505" text-anchor="start" font-family='"Liberation Sans", sans-serif' style="white-space:pre" textLength="237.50" lengthAdjust="spacing"><tspan font-style="italic">C</tspan><tspan dy="7.00" font-size="10.3" font-style="italic">T</tspan><tspan dy="-7.00"> = 0.00248</tspan><tspan dy="-10.00" font-size="10.3" font-style="italic">-1</tspan><tspan dy="10.00"> = 403.226 </tspan><tspan font-style="italic">F</tspan><tspan > </tspan><tspan font-style="italic">g</tspan><tspan dy="-10.00" font-size="10.3" font-style="italic">-1</tspan></text>
<text id="f_let" x="1045.00" y="1263.50" font-size="26" font-weight="bold" fill="#050505" text-anchor="start" font-family='"Liberation Sans", sans-serif' style="white-space:pre" textLength="28.25" lengthAdjust="spacing"><tspan font-size="28.5">(</tspan><tspan>f</tspan><tspan font-size="28.5">)</tspan></text>
<rect x="792.4" y="1149.8500000000001" width="9.2" height="9.0" fill="none" stroke="#ff0000" stroke-width="2.3" stroke-linejoin="round"/>
<rect x="839.4" y="1109.8500000000001" width="9.2" height="9.0" fill="none" stroke="#ff0000" stroke-width="2.3" stroke-linejoin="round"/>
<rect x="904.65" y="1075.6000000000001" width="9.2" height="9.0" fill="none" stroke="#ff0000" stroke-width="2.3" stroke-linejoin="round"/>
<rect x="955.4" y="1052.6000000000001" width="9.2" height="9.0" fill="none" stroke="#ff0000" stroke-width="2.3" stroke-linejoin="round"/>
<rect x="997.9" y="1033.1000000000001" width="9.2" height="9.0" fill="none" stroke="#ff0000" stroke-width="2.3" stroke-linejoin="round"/>
<rect x="1035.4" y="1015.6" width="9.2" height="9.0" fill="none" stroke="#ff0000" stroke-width="2.3" stroke-linejoin="round"/>
<line x1="213" y1="1604.5" x2="460.5" y2="1496.8" stroke="#ec9fae" stroke-width="1.1"/>
<rect x="99.45" y="1434.95" width="403.25" height="328.75" fill="none" stroke="#3a3a3a" stroke-width="1.6"/>
<line x1="99.25" y1="1763.5" x2="99.25" y2="1767.5" stroke="#3a3a3a" stroke-width="1.4"/>
<text x="99.25" y="1783.30" font-size="17.0" font-weight="bold" fill="#050505" text-anchor="middle" font-family='"Liberation Sans", sans-serif' style="white-space:pre" letter-spacing="0.3">0.00</text>
<line x1="196.06" y1="1763.5" x2="196.06" y2="1767.5" stroke="#3a3a3a" stroke-width="1.4"/>
<text x="196.06" y="1783.30" font-size="17.0" font-weight="bold" fill="#050505" text-anchor="middle" font-family='"Liberation Sans", sans-serif' style="white-space:pre" letter-spacing="0.3">0.06</text>
<line x1="292.88" y1="1763.5" x2="292.88" y2="1767.5" stroke="#3a3a3a" stroke-width="1.4"/>
<text x="292.88" y="1783.30" font-size="17.0" font-weight="bold" fill="#050505" text-anchor="middle" font-family='"Liberation Sans", sans-serif' style="white-space:pre" letter-spacing="0.3">0.12</text>
<line x1="389.69" y1="1763.5" x2="389.69" y2="1767.5" stroke="#3a3a3a" stroke-width="1.4"/>
<text x="389.69" y="1783.30" font-size="17.0" font-weight="bold" fill="#050505" text-anchor="middle" font-family='"Liberation Sans", sans-serif' style="white-space:pre" letter-spacing="0.3">0.18</text>
<line x1="486.50" y1="1763.5" x2="486.50" y2="1767.5" stroke="#3a3a3a" stroke-width="1.4"/>
<text x="486.50" y="1783.30" font-size="17.0" font-weight="bold" fill="#050505" text-anchor="middle" font-family='"Liberation Sans", sans-serif' style="white-space:pre" letter-spacing="0.3">0.24</text>
<line x1="95.25" y1="1763.50" x2="99.25" y2="1763.50" stroke="#3a3a3a" stroke-width="1.4"/>
<text x="91.65" y="1768.20" font-size="17.0" font-weight="bold" fill="#050505" text-anchor="end" font-family='"Liberation Sans", sans-serif' style="white-space:pre" letter-spacing="0.3">0.000</text>
<line x1="95.25" y1="1702.60" x2="99.25" y2="1702.60" stroke="#3a3a3a" stroke-width="1.4"/>
<text x="91.65" y="1707.30" font-size="17.0" font-weight="bold" fill="#050505" text-anchor="end" font-family='"Liberation Sans", sans-serif' style="white-space:pre" letter-spacing="0.3">0.005</text>
<line x1="95.25" y1="1641.70" x2="99.25" y2="1641.70" stroke="#3a3a3a" stroke-width="1.4"/>
<text x="91.65" y="1646.40" font-size="17.0" font-weight="bold" fill="#050505" text-anchor="end" font-family='"Liberation Sans", sans-serif' style="white-space:pre" letter-spacing="0.3">0.010</text>
<line x1="95.25" y1="1580.80" x2="99.25" y2="1580.80" stroke="#3a3a3a" stroke-width="1.4"/>
<text x="91.65" y="1585.50" font-size="17.0" font-weight="bold" fill="#050505" text-anchor="end" font-family='"Liberation Sans", sans-serif' style="white-space:pre" letter-spacing="0.3">0.015</text>
<line x1="95.25" y1="1519.90" x2="99.25" y2="1519.90" stroke="#3a3a3a" stroke-width="1.4"/>
<text x="91.65" y="1524.60" font-size="17.0" font-weight="bold" fill="#050505" text-anchor="end" font-family='"Liberation Sans", sans-serif' style="white-space:pre" letter-spacing="0.3">0.020</text>
<line x1="95.25" y1="1459.00" x2="99.25" y2="1459.00" stroke="#3a3a3a" stroke-width="1.4"/>
<text x="91.65" y="1463.70" font-size="17.0" font-weight="bold" fill="#050505" text-anchor="end" font-family='"Liberation Sans", sans-serif' style="white-space:pre" letter-spacing="0.3">0.025</text>
<text id="g_xt" x="175.75" y="1813.50" font-size="13.8" font-weight="bold" fill="#050505" text-anchor="start" font-family='"Liberation Sans", sans-serif' style="white-space:pre" textLength="250.25" lengthAdjust="spacing"><tspan >Square Root of Scan Rate (V</tspan><tspan dy="-7.40" font-size="7.4">1/2</tspan><tspan dy="7.40"> s</tspan><tspan dy="-7.40" font-size="7.4">-1/2</tspan><tspan dy="7.40">)</tspan></text>
<text id="g_yt" x="35.50" y="1769.00" font-size="17.8" font-weight="bold" fill="#050505" text-anchor="start" font-family='"Liberation Sans", sans-serif' style="white-space:pre" transform="rotate(-90 35.5 1769.0000000000014)" textLength="318.00" lengthAdjust="spacing"><tspan >Inverse of Specific Capacitance (F</tspan><tspan dy="-10.30" font-size="10">-1</tspan><tspan dy="10.30"> g)</tspan></text>
<text id="g_eq0" x="129.00" y="1651.00" font-size="17.0" font-weight="bold" fill="#050505" text-anchor="start" font-family='"Liberation Sans", sans-serif' style="white-space:pre" textLength="347.50" lengthAdjust="spacing"><tspan font-style="italic">C</tspan><tspan dy="-10.00" font-size="10.3" font-style="italic">-1</tspan><tspan dy="10.00" font-style="italic">(v)</tspan><tspan > = </tspan><tspan font-style="italic">Av</tspan><tspan dy="-10.00" font-size="10.3" font-style="italic">1/2</tspan><tspan dy="10.00"> + </tspan><tspan font-style="italic">C</tspan><tspan dy="7.00" font-size="10.3" font-style="italic">T</tspan><tspan dy="-17.00" dx="0.50" font-size="10.3" font-style="italic">-1</tspan><tspan dy="10.00"> = 0.05776</tspan><tspan font-style="italic">v</tspan><tspan dy="-10.00" font-size="10.3" font-style="italic">1/2</tspan><tspan dy="10.00"> + 0.00894</tspan></text>
<text id="g_eq1" x="154.50" y="1680.00" font-size="17.0" font-weight="bold" fill="#050505" text-anchor="start" font-family='"Liberation Sans", sans-serif' style="white-space:pre" textLength="248.00" lengthAdjust="spacing"><tspan font-style="italic">C</tspan><tspan dy="7.00" font-size="10.3" font-style="italic">T</tspan><tspan dy="-7.00"> = 0.00894</tspan><tspan dy="-10.00" font-size="10.3" font-style="italic">-1</tspan><tspan dy="10.00"> =  111.857 </tspan><tspan font-style="italic">F</tspan><tspan > </tspan><tspan font-style="italic">g</tspan><tspan dy="-10.00" font-size="10.3" font-style="italic">-1</tspan></text>
<text id="g_let" x="461.50" y="1745.00" font-size="26" font-weight="bold" fill="#050505" text-anchor="start" font-family='"Liberation Sans", sans-serif' style="white-space:pre" textLength="34.00" lengthAdjust="spacing"><tspan font-size="28.5">(</tspan><tspan>g</tspan><tspan font-size="28.5">)</tspan></text>
<circle cx="213" cy="1611.25" r="5.3" fill="none" stroke="#00e000" stroke-width="2.4"/>
<circle cx="260" cy="1576.25" r="5.3" fill="none" stroke="#00e000" stroke-width="2.4"/>
<circle cx="327" cy="1551.75" r="5.3" fill="none" stroke="#00e000" stroke-width="2.4"/>
<circle cx="378.25" cy="1535.75" r="5.3" fill="none" stroke="#00e000" stroke-width="2.4"/>
<circle cx="421.75" cy="1517" r="5.3" fill="none" stroke="#00e000" stroke-width="2.4"/>
<circle cx="460.5" cy="1496.25" r="5.3" fill="none" stroke="#00e000" stroke-width="2.4"/>
<line x1="807.5" y1="1597.5" x2="1053.75" y2="1480.5" stroke="#ec9fae" stroke-width="1.1"/>
<rect x="691.7" y="1434.7" width="405.25" height="328.5" fill="none" stroke="#3a3a3a" stroke-width="1.6"/>
<line x1="691.50" y1="1763" x2="691.50" y2="1767" stroke="#3a3a3a" stroke-width="1.4"/>
<text x="691.50" y="1782.80" font-size="17.0" font-weight="bold" fill="#050505" text-anchor="middle" font-family='"Liberation Sans", sans-serif' style="white-space:pre" letter-spacing="0.3">0.00</text>
<line x1="788.75" y1="1763" x2="788.75" y2="1767" stroke="#3a3a3a" stroke-width="1.4"/>
<text x="788.75" y="1782.80" font-size="17.0" font-weight="bold" fill="#050505" text-anchor="middle" font-family='"Liberation Sans", sans-serif' style="white-space:pre" letter-spacing="0.3">0.06</text>
<line x1="886.00" y1="1763" x2="886.00" y2="1767" stroke="#3a3a3a" stroke-width="1.4"/>
<text x="886.00" y="1782.80" font-size="17.0" font-weight="bold" fill="#050505" text-anchor="middle" font-family='"Liberation Sans", sans-serif' style="white-space:pre" letter-spacing="0.3">0.12</text>
<line x1="983.25" y1="1763" x2="983.25" y2="1767" stroke="#3a3a3a" stroke-width="1.4"/>
<text x="983.25" y="1782.80" font-size="17.0" font-weight="bold" fill="#050505" text-anchor="middle" font-family='"Liberation Sans", sans-serif' style="white-space:pre" letter-spacing="0.3">0.18</text>
<line x1="1080.50" y1="1763" x2="1080.50" y2="1767" stroke="#3a3a3a" stroke-width="1.4"/>
<text x="1080.50" y="1782.80" font-size="17.0" font-weight="bold" fill="#050505" text-anchor="middle" font-family='"Liberation Sans", sans-serif' style="white-space:pre" letter-spacing="0.3">0.24</text>
<line x1="687.5" y1="1763.00" x2="691.5" y2="1763.00" stroke="#3a3a3a" stroke-width="1.4"/>
<text x="683.90" y="1767.70" font-size="17.0" font-weight="bold" fill="#050505" text-anchor="end" font-family='"Liberation Sans", sans-serif' style="white-space:pre" letter-spacing="0.3">0.000</text>
<line x1="687.5" y1="1687.00" x2="691.5" y2="1687.00" stroke="#3a3a3a" stroke-width="1.4"/>
<text x="683.90" y="1691.70" font-size="17.0" font-weight="bold" fill="#050505" text-anchor="end" font-family='"Liberation Sans", sans-serif' style="white-space:pre" letter-spacing="0.3">0.015</text>
<line x1="687.5" y1="1611.00" x2="691.5" y2="1611.00" stroke="#3a3a3a" stroke-width="1.4"/>
<text x="683.90" y="1615.70" font-size="17.0" font-weight="bold" fill="#050505" text-anchor="end" font-family='"Liberation Sans", sans-serif' style="white-space:pre" letter-spacing="0.3">0.030</text>
<line x1="687.5" y1="1535.00" x2="691.5" y2="1535.00" stroke="#3a3a3a" stroke-width="1.4"/>
<text x="683.90" y="1539.70" font-size="17.0" font-weight="bold" fill="#050505" text-anchor="end" font-family='"Liberation Sans", sans-serif' style="white-space:pre" letter-spacing="0.3">0.045</text>
<line x1="687.5" y1="1459.00" x2="691.5" y2="1459.00" stroke="#3a3a3a" stroke-width="1.4"/>
<text x="683.90" y="1463.70" font-size="17.0" font-weight="bold" fill="#050505" text-anchor="end" font-family='"Liberation Sans", sans-serif' style="white-space:pre" letter-spacing="0.3">0.060</text>
<text id="h_xt" x="745.50" y="1816.00" font-size="17.0" font-weight="bold" fill="#050505" text-anchor="start" font-family='"Liberation Sans", sans-serif' style="white-space:pre" textLength="297.00" lengthAdjust="spacing"><tspan >Square Root of Scan Rate (V</tspan><tspan dy="-9.20" font-size="8.8">1/2</tspan><tspan dy="9.20"> s</tspan><tspan dy="-9.20" font-size="8.8">-1/2</tspan><tspan dy="9.20">)</tspan></text>
<text id="h_yt" x="627.50" y="1769.00" font-size="17.8" font-weight="bold" fill="#050505" text-anchor="start" font-family='"Liberation Sans", sans-serif' style="white-space:pre" transform="rotate(-90 627.5 1769.0000000000014)" textLength="319.00" lengthAdjust="spacing"><tspan >Inverse of Specific Capacitance (F</tspan><tspan dy="-10.30" font-size="10">-1</tspan><tspan dy="10.30"> g)</tspan></text>
<text id="h_eq0" x="723.50" y="1660.30" font-size="17.0" font-weight="bold" fill="#050505" text-anchor="start" font-family='"Liberation Sans", sans-serif' style="white-space:pre" textLength="318.50" lengthAdjust="spacing"><tspan font-style="italic">C</tspan><tspan dy="-10.00" font-size="10.3" font-style="italic">-1</tspan><tspan dy="10.00" font-style="italic">(v)</tspan><tspan > = </tspan><tspan font-style="italic">Av</tspan><tspan dy="-10.00" font-size="10.3" font-style="italic">1/2</tspan><tspan dy="10.00"> + </tspan><tspan font-style="italic">C</tspan><tspan dy="7.00" font-size="10.3" font-style="italic">T</tspan><tspan dy="-17.00" dx="0.50" font-size="10.3" font-style="italic">-1</tspan><tspan dy="10.00"> = 0.151</tspan><tspan font-style="italic">v</tspan><tspan dy="-10.00" font-size="10.3" font-style="italic">1/2</tspan><tspan dy="10.00"> + 0.0218</tspan></text>
<text id="h_eq1" x="749.50" y="1690.00" font-size="17.0" font-weight="bold" fill="#050505" text-anchor="start" font-family='"Liberation Sans", sans-serif' style="white-space:pre" textLength="227.50" lengthAdjust="spacing"><tspan font-style="italic">C</tspan><tspan dy="7.00" font-size="10.3" font-style="italic">T</tspan><tspan dy="-7.00"> = 0.0218</tspan><tspan dy="-10.00" font-size="10.3" font-style="italic">-1</tspan><tspan dy="10.00"> =  45.872 </tspan><tspan font-style="italic">F</tspan><tspan > </tspan><tspan font-style="italic">g</tspan><tspan dy="-10.00" font-size="10.3" font-style="italic">-1</tspan></text>
<text id="h_let" x="1053.75" y="1745.00" font-size="26" font-weight="bold" fill="#050505" text-anchor="start" font-family='"Liberation Sans", sans-serif' style="white-space:pre" textLength="35.75" lengthAdjust="spacing"><tspan font-size="28.5">(</tspan><tspan>h</tspan><tspan font-size="28.5">)</tspan></text>
<path d="M805.75 1597.45L811.95 1607.75L799.55 1607.75Z" fill="none" stroke="#0000dd" stroke-width="2.3" stroke-linejoin="round"/>
<path d="M853.75 1561.95L859.95 1572.25L847.55 1572.25Z" fill="none" stroke="#0000dd" stroke-width="2.3" stroke-linejoin="round"/>
<path d="M920.5 1536.8L926.7 1547.1L914.3 1547.1Z" fill="none" stroke="#0000dd" stroke-width="2.3" stroke-linejoin="round"/>
<path d="M972 1518.7L978.2 1529.0L965.8 1529.0Z" fill="none" stroke="#0000dd" stroke-width="2.3" stroke-linejoin="round"/>
<path d="M1015.75 1496.2L1021.95 1506.5L1009.55 1506.5Z" fill="none" stroke="#0000dd" stroke-width="2.3" stroke-linejoin="round"/>
<path d="M1053.75 1472.2L1059.95 1482.5L1047.55 1482.5Z" fill="none" stroke="#0000dd" stroke-width="2.3" stroke-linejoin="round"/>
</svg></body></html>
